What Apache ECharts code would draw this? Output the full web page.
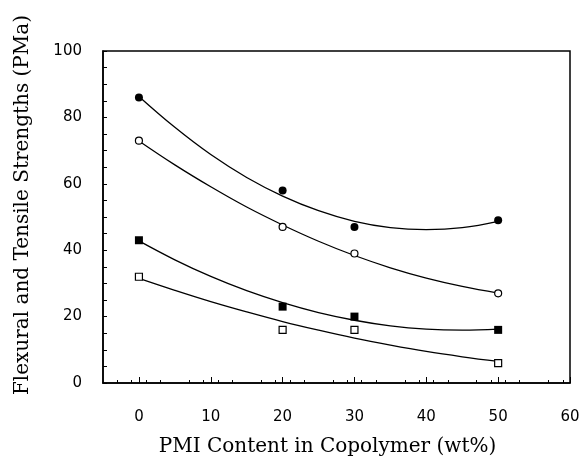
<!DOCTYPE html>
<html>
<head>
<meta charset="utf-8">
<script src="https://cdn.jsdelivr.net/npm/echarts@6/dist/echarts.min.js"></script>
<style>html,body{margin:0;padding:0;background:#fff}#c{width:585px;height:468px}</style>
</head>
<body>
<div id="c"></div>
<script>
// PMI content (wt%) of the measured samples
const pmi = [0, 20, 30, 50];
// measured strengths
const filledCircles = [86, 58, 47, 49];
const openCircles = [73, 47, 39, 27];
const filledSquares = [43, 23, 20, 16];
const openSquares = [32, 16, 16, 6];
// fitted curves at these x positions
const curveX = [0, 5, 10, 15, 20, 25, 30, 35, 40, 45, 50];
const curveFilledCircles = [86.3, 77.0, 68.8, 61.9, 56.3, 51.9, 48.7, 46.8, 46.2, 46.8, 48.7];
const curveOpenCircles = [72.9, 65.7, 59.1, 53.0, 47.6, 42.7, 38.4, 34.7, 31.6, 29.1, 27.1];
const curveFilledSquares = [42.8, 37.1, 32.1, 27.8, 24.2, 21.2, 18.9, 17.2, 16.2, 15.9, 16.2];
const curveOpenSquares = [31.5, 27.9, 24.5, 21.4, 18.5, 15.9, 13.5, 11.4, 9.5, 7.9, 6.5];
// axis ticks
const xTicks = [0, 10, 20, 30, 40, 50, 60];
const yTicks = [0, 20, 40, 60, 80, 100];

const pair = (xs, ys) => xs.map((x, i) => [x, ys[i]]);
const chart = echarts.init(document.getElementById('c'), null, {renderer: 'canvas'});

function curve(ys) {
  return {type: 'line', data: pair(curveX, ys), smooth: 0.4, showSymbol: false, symbol: 'none',
    lineStyle: {color: '#000', width: 1.3}, z: 2, silent: true};
}
function pts(ys, symbol, filled, size) {
  return {type: 'scatter', data: pair(pmi, ys), symbol: symbol, symbolSize: size,
    itemStyle: filled ? {color: '#000', borderColor: '#000', borderWidth: 0, opacity: 1}
                      : {color: '#fff', borderColor: '#000', borderWidth: 1.2, opacity: 1}, z: 5};
}

chart.setOption({
  animation: false,
  backgroundColor: '#fff',
  grid: {left: 103, top: 51, right: 15, bottom: 85, show: true, borderColor: '#000', borderWidth: 1.5, backgroundColor: 'transparent'},
  xAxis: {
    type: 'value', min: -5, max: 60, interval: 10,
    name: 'PMI Content in Copolymer (wt%)', nameLocation: 'middle', nameGap: 54,
    nameTextStyle: {fontFamily: 'DejaVu Serif', fontSize: 20, color: '#000', padding: [0, 18, 0, 0]},
    axisLine: {show: true, onZero: false, lineStyle: {color: '#000', width: 1.5}},
    axisTick: {show: true, inside: true, length: 6, lineStyle: {color: '#000', width: 1}, customValues: xTicks},
    minorTick: {show: true, splitNumber: 5, length: 3, lineStyle: {color: '#000', width: 1}},
    axisLabel: {color: '#000', fontFamily: 'DejaVu Sans', fontSize: 15, margin: 27, customValues: xTicks,
      formatter: v => xTicks.includes(v) ? String(v) : ''},
    splitLine: {show: false}
  },
  yAxis: {
    type: 'value', min: 0, max: 100, interval: 20,
    name: 'Flexural and Tensile Strengths (PMa)', nameLocation: 'middle', nameGap: 70,
    nameTextStyle: {fontFamily: 'DejaVu Serif', fontSize: 20, color: '#000', padding: [0, 0, 0, 24]},
    axisLine: {show: true, onZero: false, lineStyle: {color: '#000', width: 1.5}},
    axisTick: {show: true, inside: true, length: 4, lineStyle: {color: '#000', width: 1}},
    minorTick: {show: true, splitNumber: 4, length: 4, lineStyle: {color: '#000', width: 1}},
    axisLabel: {color: '#000', fontFamily: 'DejaVu Sans', fontSize: 15, margin: 21,
      formatter: v => yTicks.includes(v) ? String(v) : ''},
    splitLine: {show: false}
  },
  series: [
    curve(curveFilledCircles), curve(curveOpenCircles), curve(curveFilledSquares), curve(curveOpenSquares),
    pts(filledCircles, 'circle', true, 8),
    pts(openCircles, 'circle', false, 7),
    pts(filledSquares, 'rect', true, 8),
    pts(openSquares, 'rect', false, 7)
  ]
});
</script>
</body>
</html>
